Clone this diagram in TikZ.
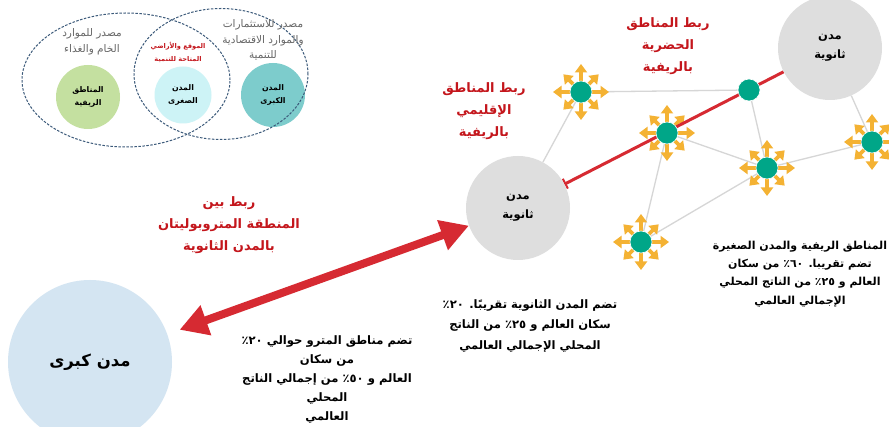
\documentclass[tikz,border=0pt]{standalone}
\usepackage{fontspec}
\setmainfont{DejaVu Sans}
\newfontfamily\ar[Script=Arabic]{DejaVu Sans}
\TeXXeTstate=1
\usetikzlibrary{arrows.meta,shapes.geometric}
\newcommand{\AR}[1]{\beginR #1\endR}
\definecolor{redarrow}{HTML}{D62A32}
\definecolor{redtext}{HTML}{C4161C}
\definecolor{gnode}{HTML}{00A688}
\definecolor{orng}{HTML}{F4B233}
\definecolor{lgray}{HTML}{DEDEDE}
\definecolor{lineg}{HTML}{D6D6D6}
\definecolor{lblue}{HTML}{D4E5F2}
\definecolor{vgreen}{HTML}{C4E0A0}
\definecolor{vcyan}{HTML}{CDF3F6}
\definecolor{vteal}{HTML}{7DCCCC}
\definecolor{vdash}{HTML}{3C5A7A}
\definecolor{vtext}{HTML}{666666}
\pgfdeclarelayer{bg}
\pgfdeclarelayer{mid}
\pgfsetlayers{bg,mid,main}
\tikzset{
  gn/.style={circle, fill=gnode, draw=white, line width=0.6pt, minimum size=22pt, inner sep=0pt},
  secc/.style={circle, fill=lgray, minimum size=104pt, inner sep=0pt, align=center,
    font=\ar\bfseries\fontsize{11.5}{19}\selectfont},
  bigc/.style={circle, fill=lblue, minimum size=164pt, inner sep=0pt,
    font=\ar\bfseries\fontsize{16.5}{20}\selectfont},
  orarrow/.style={draw=orng, line width=3.6pt, -{Triangle[width=12pt,length=8.5pt]}},
  burst/.pic={
    \foreach \a in {0,90,180,270}{\draw[orarrow] (\a:9pt) -- (\a:28pt);}
    \foreach \a in {45,135,225,315}{\draw[orarrow] (\a:9pt) -- (\a:25pt);}
  },
  grayline/.style={draw=lineg, line width=1.3pt},
  redlabel/.style={align=center, text=redtext, font=\ar\bfseries\fontsize{13}{22}\selectfont},
  blacklabel/.style={align=center, text=black, font=\ar\bfseries\fontsize{11.6}{#1}\selectfont},
  venn/.style={ellipse, draw=vdash, dash pattern=on 2.5pt off 1.5pt, line width=1pt, inner sep=0pt},
  vcirc/.style={circle, inner sep=0pt, align=center, font=\ar\bfseries\fontsize{7.8}{13}\selectfont},
  vgray/.style={align=center, text=vtext, font=\ar\fontsize{10.5}{15.5}\selectfont},
}
\begin{document}
\begin{tikzpicture}[x=1pt,y=-1pt]
\useasboundingbox (0,0) rectangle (889,427);
\begin{pgfonlayer}{bg}
  \fill[white] (0,0) rectangle (889,427);
\end{pgfonlayer}

% ---------- Venn diagram ----------
\node[vcirc, fill=vgreen, minimum size=64pt] (vrural) at (88,97) {\AR{المناطق}\\\AR{الريفية}};
\node[vcirc, fill=vcyan, minimum size=57pt] (vsmall) at (183,95) {\AR{المدن}\\\AR{الصغرى}};
\node[vcirc, fill=vteal, minimum size=64pt] (vlarge) at (273,95) {\AR{المدن}\\\AR{الكبرى}};
\node[venn, minimum width=208pt, minimum height=134pt] (ellL) at (126,80) {};
\node[venn, minimum width=174pt, minimum height=131pt] (ellR) at (221,74) {};
\node[vgray] (vt1) at (92,42) {\AR{مصدر للموارد}\\\AR{الخام والغذاء}};
\node[align=center, text=redtext, font=\ar\bfseries\fontsize{6.6}{13}\selectfont] (vt2) at (178,52) {\AR{الموقع والأراضي}\\\AR{المتاحة للتنمية}};
\node[vgray] (vt3) at (263,40) {\AR{مصدر للاستثمارات}\\\AR{والموارد الاقتصادية}\\\AR{للتنمية}};

% ---------- network nodes ----------
\node[gn] (n1) at (581,92) {};
\node[gn] (n2) at (749,90) {};
\node[gn] (n3) at (667,133) {};
\node[gn] (n4) at (767,168) {};
\node[gn] (n5) at (872,142) {};
\node[gn] (n6) at (641,242) {};
\node[secc] (s1) at (830,48) {\AR{مدن}\\\AR{ثانوية}};
\node[secc] (s2) at (518,208) {\AR{مدن}\\\AR{ثانوية}};
\node[bigc] (mc) at (90,362) {\AR{مدن كبرى}};

\begin{pgfonlayer}{bg}
  \draw[grayline] (n1) -- (n2);
  \draw[grayline] (n1) -- (s2);
  \draw[grayline] (n2) -- (n4);
  \draw[grayline] (n3) -- (n4);
  \draw[grayline] (n4) -- (n5);
  \draw[grayline] (n3) -- (n6);
  \draw[grayline] (n4) -- (n6);
  \draw[grayline] (s1) -- (n5);
  \foreach \n in {n1,n3,n4,n5,n6}{\path (\n) pic {burst};}
\end{pgfonlayer}

\begin{pgfonlayer}{mid}
  \draw[redarrow, line width=3pt, -{Bar[width=11pt,line width=2pt]}] (s1) -- (s2);
\end{pgfonlayer}

% ---------- big double arrow ----------
\draw[redarrow, line width=8pt, {Triangle[width=30pt,length=28pt]}-{Triangle[width=30pt,length=28pt]}, shorten <=13pt] (mc) -- (s2);

% ---------- labels ----------
\node[redlabel] (lab1) at (668,46) {\AR{ربط المناطق}\\\AR{الحضرية}\\\AR{بالريفية}};
\node[redlabel] (lab2) at (484,111) {\AR{ربط المناطق}\\\AR{الإقليمي}\\\AR{بالريفية}};
\node[redlabel] (lab3) at (229,225) {\AR{ربط بين}\\\AR{المنطقة المتروبوليتان}\\\AR{بالمدن الثانوية}};

\node[blacklabel=20.5] (tsec) at (530,326) {\AR{تضم المدن الثانوية تقريبًا. ٢٠٪}\\\AR{سكان العالم و ٢٥٪ من الناتج}\\\AR{المحلي الإجمالي العالمي}};
\node[align=center, text=black, font=\ar\bfseries\fontsize{11}{18.3}\selectfont] (trur) at (800,274) {\AR{المناطق الريفية والمدن الصغيرة}\\\AR{تضم تقريبا. ٦٠٪ من سكان}\\\AR{العالم و ٢٥٪ من الناتج المحلي}\\\AR{الإجمالي العالمي}};
\node[blacklabel=19] (tmet) at (327,380) {\AR{تضم مناطق المترو حوالي ٢٠٪}\\\AR{من سكان}\\\AR{العالم و ٥٠٪ من إجمالي الناتج}\\\AR{المحلي}\\\AR{العالمي}};
\end{tikzpicture}
\end{document}
